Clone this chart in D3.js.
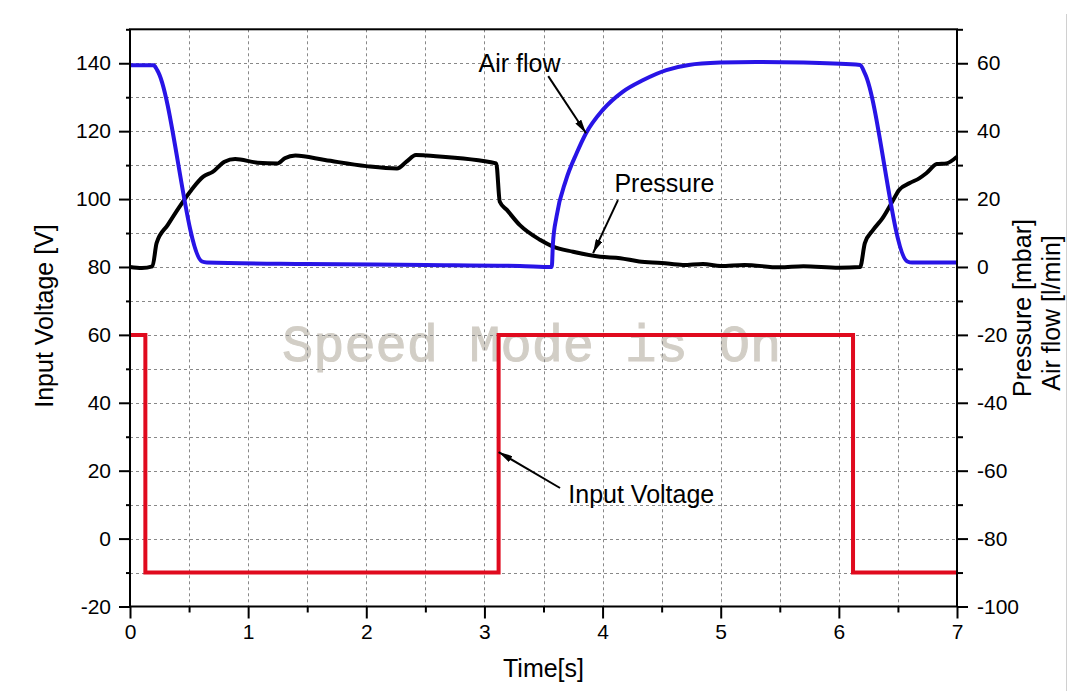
<!DOCTYPE html>
<html>
<head>
<meta charset="utf-8">
<script src="https://cdn.jsdelivr.net/npm/d3@7"></script>
<style>
  body { margin: 0; background: #fff; }
  text { font-family: "Liberation Sans", Arial, sans-serif; }
</style>
</head>
<body>
<div id="chart"></div>
<script>
// input voltage (left axis, V)
var voltageT = [0, 0.13, 0.13, 3.12, 3.12, 6.12, 6.12, 7];
var voltageV = [60, 60, -10, -10, 60, 60, -10, -10];

// pressure (right axis, mbar)
var pressureT = [0, 0.1, 0.19, 0.225, 0.32, 0.42, 0.52, 0.62, 0.70, 0.80, 0.89, 1.08, 1.25, 1.31, 1.40, 1.65,
                 2.0, 2.26, 2.34, 2.42, 2.51, 3.10, 3.13, 3.19, 3.30, 3.47, 3.58, 3.75, 3.98, 4.15, 4.31, 4.5, 4.68,
                 4.85, 5.0, 5.2, 5.5, 5.7, 6.0, 6.18, 6.22, 6.29, 6.37, 6.46, 6.51, 6.60, 6.68, 6.74, 6.83, 6.91, 7.0];
var pressureV = [0, -0.3, 0.2, 7, 12.4, 17.8, 22.7, 26.6, 28, 31, 31.8, 30.7, 30.5, 32, 32.8, 31.5,
                 29.7, 29, 31, 33, 32.8, 30.5, 19.2, 16.8, 12.3, 8, 6, 4.5, 3, 2.6, 1.6, 1.2, 0.6,
                 0.9, 0.3, 0.6, -0.1, 0.2, -0.2, 0, 7, 10.9, 14.4, 19.7, 22.7, 24.7, 26.1, 27.6, 30.3, 30.5, 32.5];

// air flow (right axis, l/min)
var flowT = [0, 0.2, 0.23, 0.61, 0.65, 1.5, 2.5, 3.3, 3.57, 3.58, 3.61, 3.69, 3.78, 3.86, 4.0, 4.17,
             4.34, 4.54, 4.73, 5.0, 5.3, 5.7, 6.18, 6.22, 6.58, 6.62, 7.0];
var flowV = [59.4, 59.4, 58, 1.6, 1.3, 0.9, 0.6, 0.3, 0, 7, 14.8, 25.6, 33.5, 39.4, 46.2, 51.6,
             55, 58, 59.5, 60.2, 60.4, 60.2, 59.5, 57, 1.6, 1.3, 1.3];

var xTicks = [0, 1, 2, 3, 4, 5, 6, 7];
var leftTicks = [-20, 0, 20, 40, 60, 80, 100, 120, 140];
var rightTicks = [-100, -80, -60, -40, -20, 0, 20, 40, 60];

// labels with arrows: [text, text t, text value, arrow from t, from v, to t, to v, axis]
var notes = [
  ["Air flow", 2.95, 57.4, 3.54, 56.2, 3.86, 39.4, "right"],
  ["Pressure", 4.10, 22.2, 4.13, 19.7, 3.92, 4.1, "right"],
  ["Input Voltage", 3.71, 10.6, 3.64, 14.9, 3.12, 25.5, "left"]
];

var W = 1068, H = 691;
var svg = d3.select("#chart").append("svg").attr("width", W).attr("height", H);

var x = d3.scaleLinear().domain([0, 7]).range([130, 957]);
var yL = d3.scaleLinear().domain([-20, 150]).range([606.5, 29.3]);
var yR = d3.scaleLinear().domain([-100, 70]).range([606.5, 29.3]);

// light frame line on the far right
svg.append("line").attr("x1", 1066.5).attr("x2", 1066.5).attr("y1", 14).attr("y2", H)
  .style("stroke", "#d0d0d0").style("stroke-width", 1);

// watermark
svg.append("text")
  .attr("x", 282).attr("y", 361)
  .style("font-family", "'Liberation Mono', 'Courier New', monospace")
  .style("font-size", "52px")
  .style("fill", "#d2cec6").style("stroke", "#d2cec6").style("stroke-width", 1)
  .text("Speed Mode is On");

// grid
var gridY = d3.range(-10, 150, 10);
svg.append("g").selectAll("line").data(gridY).enter().append("line")
  .attr("x1", x(0)).attr("x2", x(7))
  .attr("y1", function(d) { return Math.round(yL(d)) + 0.5; })
  .attr("y2", function(d) { return Math.round(yL(d)) + 0.5; })
  .style("stroke", "#888").style("stroke-width", 1).style("stroke-dasharray", "3,3");
var gridX = d3.range(0.5, 7, 0.5);
svg.append("g").selectAll("line").data(gridX).enter().append("line")
  .attr("x1", function(d) { return Math.round(x(d)) + 0.5; })
  .attr("x2", function(d) { return Math.round(x(d)) + 0.5; })
  .attr("y1", yL(150)).attr("y2", yL(-20))
  .style("stroke", "#888").style("stroke-width", 1).style("stroke-dasharray", "3,3");

// lines
var volt = voltageT.map(function(t, i) { return [t, voltageV[i]]; });
var pres = pressureT.map(function(t, i) { return [t, pressureV[i]]; });
var flow = flowT.map(function(t, i) { return [t, flowV[i]]; });

var lineL = d3.line().x(function(d) { return x(d[0]); }).y(function(d) { return yL(d[1]); });
var lineR = d3.line().x(function(d) { return x(d[0]); }).y(function(d) { return yR(d[1]); })
  .curve(d3.curveMonotoneX);

svg.append("path").datum(volt).attr("d", lineL)
  .style("fill", "none").style("stroke", "#e00a1e").style("stroke-width", 4);
svg.append("path").datum(pres).attr("d", lineR)
  .style("fill", "none").style("stroke", "#000").style("stroke-width", 4)
  .style("stroke-linejoin", "round");
svg.append("path").datum(flow).attr("d", lineR)
  .style("fill", "none").style("stroke", "#2814e6").style("stroke-width", 4)
  .style("stroke-linejoin", "round");

// axes
var axisFont = "21px";
var gx = svg.append("g").attr("transform", "translate(0," + yL(-20) + ")")
  .call(d3.axisBottom(x).tickValues(xTicks).tickSize(12).tickPadding(6).tickFormat(d3.format("d")));
var gxm = svg.append("g").attr("transform", "translate(0," + yL(-20) + ")")
  .call(d3.axisBottom(x).tickValues(d3.range(0.5, 7, 1)).tickSize(6).tickFormat(""));

var gl = svg.append("g").attr("transform", "translate(" + x(0) + ",0)")
  .call(d3.axisLeft(yL).tickValues(leftTicks).tickSize(11).tickPadding(8).tickFormat(d3.format("d")));
var glm = svg.append("g").attr("transform", "translate(" + x(0) + ",0)")
  .call(d3.axisLeft(yL).tickValues(d3.range(-10, 160, 20)).tickSize(4).tickFormat(""));

var gr = svg.append("g").attr("transform", "translate(" + x(7) + ",0)")
  .call(d3.axisRight(yR).tickValues(rightTicks).tickSize(11).tickPadding(9).tickFormat(d3.format("d")));
var grm = svg.append("g").attr("transform", "translate(" + x(7) + ",0)")
  .call(d3.axisRight(yR).tickValues(d3.range(-90, 80, 20)).tickSize(6).tickFormat(""));

[gx, gxm, gl, glm, gr, grm].forEach(function(g) {
  g.select(".domain").remove();
  g.selectAll("line").style("stroke", "#000").style("stroke-width", 2);
  g.selectAll("text").style("font-family", "'Liberation Sans', Arial, sans-serif")
    .style("font-size", axisFont).style("fill", "#000");
});
gl.selectAll("text").text(function(d) { return d < 0 ? "-" + Math.abs(d) : d; });
gr.selectAll("text").text(function(d) { return d < 0 ? "-" + Math.abs(d) : d; });

// frame
svg.append("rect").attr("x", x(0)).attr("y", yL(150))
  .attr("width", x(7) - x(0)).attr("height", yL(-20) - yL(150))
  .style("fill", "none").style("stroke", "#000").style("stroke-width", 2);

// axis titles
var titleFont = "25px";
svg.append("text").attr("x", (x(0) + x(7)) / 2).attr("y", 677)
  .attr("text-anchor", "middle").style("font-size", titleFont).text("Time[s]");
svg.append("text").attr("transform", "translate(53,316) rotate(-90)")
  .attr("text-anchor", "middle").style("font-size", titleFont).text("Input Voltage [V]");
svg.append("text").attr("transform", "translate(1031,308) rotate(-90)")
  .attr("text-anchor", "middle").style("font-size", titleFont).text("Pressure [mbar]");
svg.append("text").attr("transform", "translate(1060,313) rotate(-90)")
  .attr("text-anchor", "middle").style("font-size", titleFont).text("Air flow [l/min]");

// annotations
svg.append("defs").append("marker")
  .attr("id", "arr").attr("viewBox", "0 0 12 6").attr("refX", 12).attr("refY", 3)
  .attr("markerWidth", 14).attr("markerHeight", 7).attr("markerUnits", "userSpaceOnUse")
  .attr("orient", "auto")
  .append("path").attr("d", "M0,0 L12,3 L0,6 Z").style("fill", "#000");

notes.forEach(function(n) {
  var ys = n[7] === "left" ? yL : yR;
  svg.append("text").attr("x", x(n[1])).attr("y", ys(n[2]))
    .style("font-size", "25px").text(n[0]);
  svg.append("line")
    .attr("x1", x(n[3])).attr("y1", ys(n[4]))
    .attr("x2", x(n[5])).attr("y2", ys(n[6]))
    .style("stroke", "#000").style("stroke-width", 2)
    .attr("marker-end", "url(#arr)");
});
</script>
</body>
</html>
